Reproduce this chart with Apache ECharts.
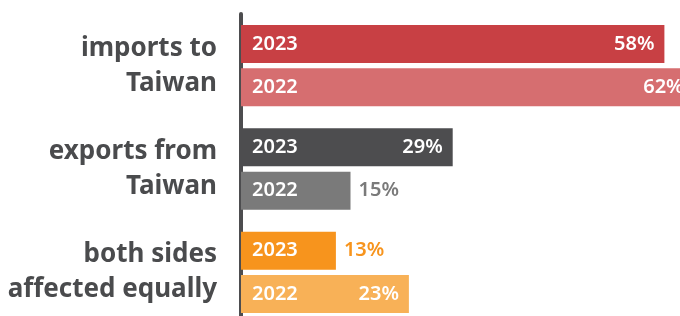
<!DOCTYPE html>
<html>
<head>
<meta charset="utf-8">
<script src="https://cdn.jsdelivr.net/npm/echarts@6/dist/echarts.min.js"></script>
<style>
  html, body { margin: 0; padding: 0; background: #fff; overflow: hidden; }
  #chart { width: 680px; height: 324px; }
</style>
</head>
<body>
<div id="chart"></div>
<script>
// data
var categories = ['imports to\nTaiwan', 'exports from\nTaiwan', 'both sides\naffected equally']
var years = ['2023', '2022']
var values2023 = [58, 29, 13]
var values2022 = [62, 15, 23]

// colours per category, [2023, 2022]
var colors = [
  ['#c84044', '#d66e70'],
  ['#4d4d4f', '#7a7a7a'],
  ['#f7941d', '#f8b157']
]

var font = '"Noto Sans", sans-serif'
var chart = echarts.init(document.getElementById('chart'))

function barData(values, yearIdx) {
  return values.map(function(v, i) {
    return { value: v, itemStyle: { color: colors[i][yearIdx] } }
  })
}

// value labels: inside the bar when it is long enough, beside it otherwise
function valueData(values, yearIdx) {
  return values.map(function(v, i) {
    var inside = v >= 20
    return {
      value: v,
      label: {
        position: inside ? 'insideRight' : 'right',
        distance: inside ? 10 : 8,
        color: inside ? '#fff' : colors[i][yearIdx]
      }
    }
  })
}

function mainSeries(values, yearIdx) {
  return {
    name: years[yearIdx],
    type: 'bar',
    yAxisIndex: 0,
    barWidth: 38,
    barGap: '14%',
    clip: false,
    silent: true,
    data: barData(values, yearIdx),
    label: {
      show: true,
      position: 'insideLeft',
      distance: 11,
      formatter: years[yearIdx],
      color: '#fff',
      fontFamily: font,
      fontSize: 20,
      fontWeight: 600
    }
  }
}

function labelSeries(values, yearIdx) {
  return {
    name: years[yearIdx] + ' value',
    type: 'bar',
    yAxisIndex: 1,
    barWidth: 38,
    barGap: '14%',
    clip: false,
    silent: true,
    z: 3,
    itemStyle: { color: 'transparent' },
    data: valueData(values, yearIdx),
    label: {
      show: true,
      formatter: '{c}%',
      fontFamily: font,
      fontSize: 20,
      fontWeight: 600
    }
  }
}

chart.setOption({
  animation: false,
  grid: {
    left: 241,
    right: 1,
    top: 14,
    bottom: 0,
    containLabel: false
  },
  xAxis: {
    type: 'value',
    min: 0,
    max: 60,
    show: false
  },
  yAxis: [{
    type: 'category',
    data: categories,
    inverse: true,
    offset: 3,
    axisLine: { show: true, lineStyle: { color: '#4d4d4f', width: 4 } },
    axisTick: { show: false },
    axisLabel: {
      margin: 21,
      color: '#4a4b4d',
      fontFamily: font,
      fontSize: 26,
      fontWeight: 'bold',
      lineHeight: 35,
      align: 'right'
    }
  }, {
    type: 'category',
    data: categories,
    inverse: true,
    show: false
  }],
  series: [
    mainSeries(values2023, 0),
    mainSeries(values2022, 1),
    labelSeries(values2023, 0),
    labelSeries(values2022, 1)
  ]
})
</script>
</body>
</html>
